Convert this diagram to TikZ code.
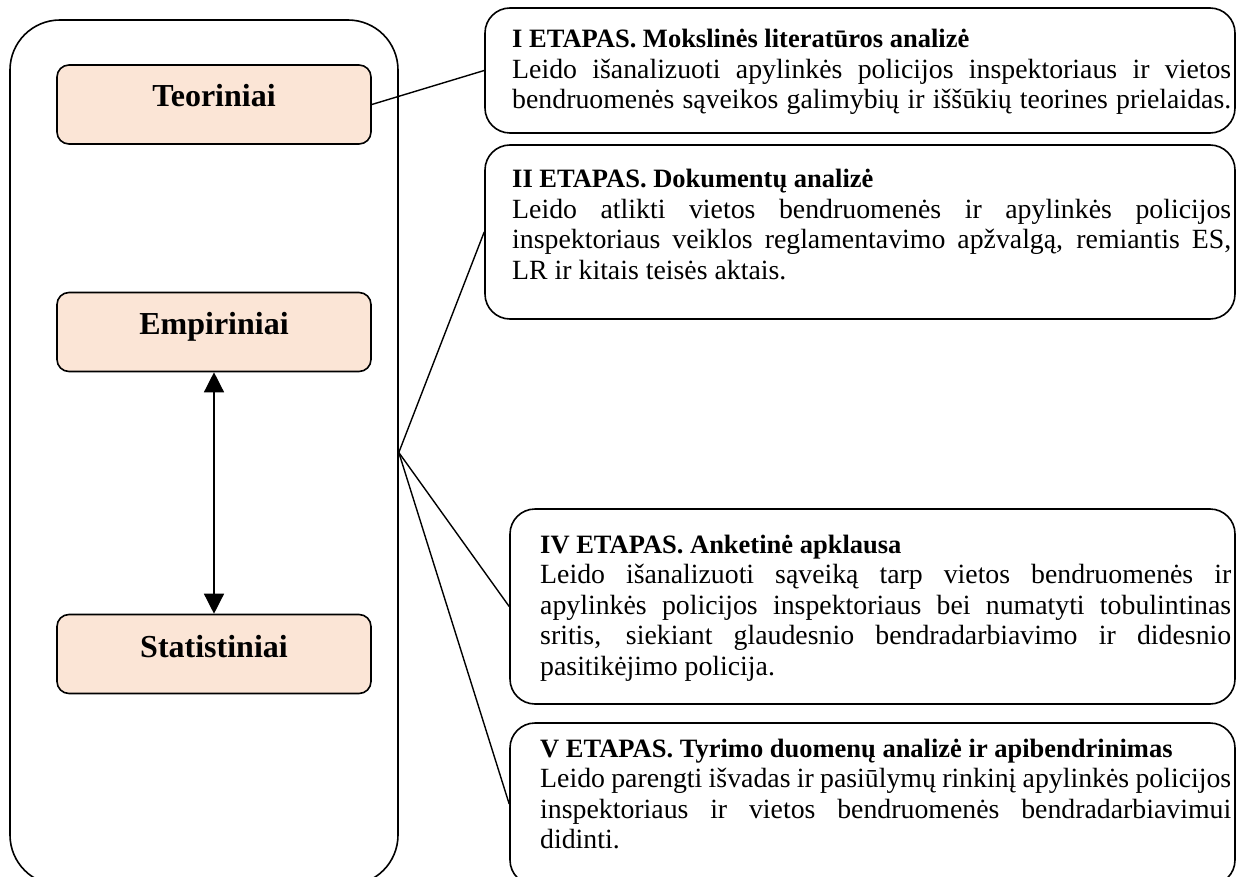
\documentclass[tikz,border=0pt]{standalone}
\usepackage{fontspec}
\setmainfont{Liberation Serif}
\usetikzlibrary{arrows.meta}
\definecolor{peach}{HTML}{FBE5D6}
\newcommand\jline[1]{\hbox to\hsize{#1}}
\newcommand\nline[1]{\hbox{#1}}
\newcommand\ttl[1]{\hbox{\fontsize{26.5}{30}\selectfont\bfseries #1}}
\begin{document}
\begin{tikzpicture}[x=1pt,y=-1pt,
  frame/.style={draw=black, line width=1.6pt, rounded corners=50pt, inner sep=0pt},
  kind/.style={draw=black, line width=1.6pt, fill=peach, rounded corners=12pt, inner sep=0pt, minimum width=314pt, minimum height=79pt},
  kindlabel/.style={anchor=base, inner sep=0pt, font=\fontsize{32}{36}\selectfont\bfseries},
  stagebox/.style={draw=black, line width=1.6pt, rounded corners=25pt, inner sep=0pt},
  stagetext/.style={anchor=base west, inner sep=0pt, font=\fontsize{27.8}{30.5}\selectfont},
  conn/.style={draw=black, line width=1.4pt}
]
\useasboundingbox (0,0) rectangle (1236,877);
\clip (0,0) rectangle (1236,877);
% left frame
\node[frame, minimum width=388pt, minimum height=865pt] (lb) at (204,452.5) {};
\node[kind] (tb) at (214,104.5) {};
\node[kindlabel] (tl) at (214,107) {Teoriniai};
\node[kind] (eb) at (214,332) {};
\node[kindlabel] (el) at (214,334) {Empiriniai};
\node[kind] (sb) at (214,654) {};
\node[kindlabel] (sl) at (214,657) {Statistiniai};
\draw[conn, {Triangle[length=20pt,width=20pt]}-{Triangle[length=20pt,width=20pt]}] (eb.south) -- (sb.north);
\coordinate (hub) at (lb.east);
% right boxes
\node[stagebox, minimum width=750pt, minimum height=125pt] (b1) at (860,70.5) {};
\node[stagebox, minimum width=750pt, minimum height=174pt] (b2) at (860,232) {};
\node[stagebox, minimum width=725pt, minimum height=195pt] (b4) at (872.5,606.5) {};
\node[stagebox, minimum width=725pt, minimum height=162pt] (b5) at (872.5,804) {};
\node[stagetext] (x1) at (512,48) {\vtop{\hsize=719pt\baselineskip=30.5pt
  \ttl{I ETAPAS. Mokslinės literatūros analizė}
  \jline{Leido išanalizuoti apylinkės policijos inspektoriaus ir vietos}
  \jline{bendruomenės sąveikos galimybių ir iššūkių teorines prielaidas.}}};
\node[stagetext] (x2) at (512,188) {\vtop{\hsize=719pt\baselineskip=30.5pt
  \ttl{II ETAPAS. Dokumentų analizė}
  \jline{Leido atlikti vietos bendruomenės ir apylinkės policijos}
  \jline{inspektoriaus veiklos reglamentavimo apžvalgą, remiantis ES,}
  \nline{LR ir kitais teisės aktais.}}};
\node[stagetext] (x4) at (540,553) {\vtop{\hsize=691pt\baselineskip=30.5pt
  \ttl{IV ETAPAS. Anketinė apklausa}
  \jline{Leido išanalizuoti sąveiką tarp vietos bendruomenės ir}
  \jline{apylinkės policijos inspektoriaus bei numatyti tobulintinas}
  \jline{sritis, siekiant glaudesnio bendradarbiavimo ir didesnio}
  \nline{pasitikėjimo policija.}}};
\node[stagetext] (x5) at (540,757) {\vtop{\hsize=691pt\baselineskip=30.5pt
  \ttl{V ETAPAS. Tyrimo duomenų analizė ir apibendrinimas}
  \jline{Leido parengti išvadas ir pasiūlymų rinkinį apylinkės policijos}
  \jline{inspektoriaus ir vietos bendruomenės bendradarbiavimui}
  \nline{didinti.}}};
% connectors
\draw[conn] (tb.east) -- (b1.west);
\draw[conn] (hub) -- (b2.west);
\draw[conn] (hub) -- (b4.west);
\draw[conn] (hub) -- (b5.west);
\end{tikzpicture}
\end{document}
